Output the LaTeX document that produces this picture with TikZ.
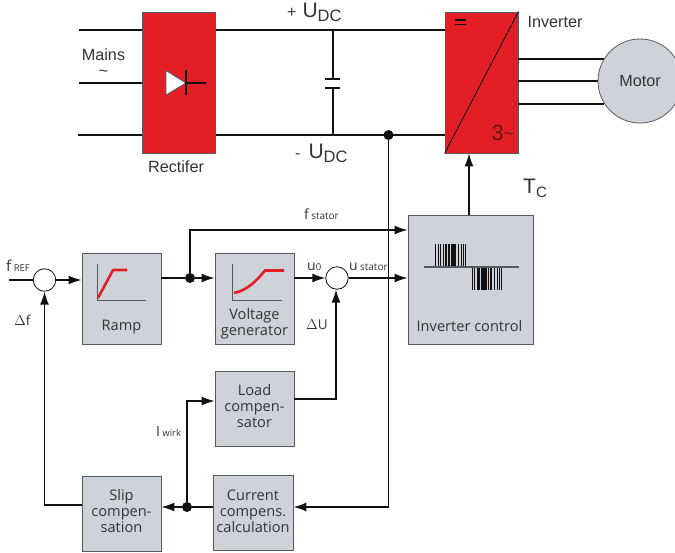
\documentclass[tikz,border=0pt]{standalone}
\usepackage{fontspec}
\setmainfont{Liberation Sans}
\newfontfamily\lowfont{Open Sans}
\usetikzlibrary{arrows.meta,calc}
\definecolor{hred}{HTML}{E31E26}
\definecolor{hgray}{HTML}{CDD3D9}
\definecolor{hink}{HTML}{111111}
\definecolor{htext}{HTML}{333333}
\definecolor{hedge}{HTML}{555A5E}
\newcommand{\fsz}[1]{\fontsize{#1}{#1}\selectfont}
\tikzset{
  x=1pt,y=-1pt,
  wire/.style={draw=hink,line width=1.5pt},
  arrowed/.style={wire,-{Latex[length=13pt,width=9pt]}},
  redbox/.style={draw=hedge,line width=0.8pt,fill=hred,inner sep=0pt,minimum width=73.5pt,minimum height=141pt},
  graybox/.style={draw=hedge,line width=0.8pt,fill=hgray,inner sep=0pt,minimum width=79pt},
  sumnode/.style={circle,draw=hink,line width=0.8pt,fill=white,minimum size=22.5pt,inner sep=0pt},
  junction/.style={circle,fill=hink,minimum size=10pt,inner sep=0pt},
  toptext/.style={text=htext,inner sep=0pt,font=\fsz{16.2}},
  lowtext/.style={text=htext,inner sep=0pt,font=\lowfont\fsz{13.5}},
  boxtext/.style={text=htext,inner sep=0pt,anchor=center,align=center,font=\lowfont\fontsize{14.6}{16}\selectfont},
  bigtext/.style={text=htext,inner sep=0pt,anchor=base west,font=\fsz{21}},
  motorstyle/.style={circle,draw=hedge,line width=0.8pt,fill=hgray,minimum size=84pt,inner sep=0pt,text=htext,font=\fsz{16.2}},
  axisline/.style={draw=hedge,line width=0.9pt},
  redcurve/.style={draw=hred,line width=2.6pt,line join=round},
}
\begin{document}
\begin{tikzpicture}
\useasboundingbox (0,0) rectangle (675,552);
% boxes
\node[redbox] (rect) at (179,82.5) {};
\node[redbox,minimum width=73pt] (inv) at (481.5,82.5) {};
\node[graybox,minimum width=125pt,minimum height=129pt] (ctrl) at (470.5,279.5) {};
\node[graybox,minimum height=91pt] (ramp) at (121.5,298.5) {};
\node[graybox,minimum height=91pt] (vgen) at (254.5,298.5) {};
\node[graybox,minimum height=75pt] (load) at (254.5,408.5) {};
\node[graybox,minimum height=75pt] (slip) at (121.5,513.5) {};
\node[graybox,minimum width=80pt,minimum height=75pt] (curr) at (253,512.5) {};
\node[sumnode] (sumA) at (44.5,280) {};
\node[sumnode] (sumB) at (337,278) {};
% free ends and bends
\coordinate (m1) at (79,30);
\coordinate (m2) at (79,83);
\coordinate (m3) at (78,135);
\coordinate (capT) at (333,79);
\coordinate (capB) at (333,88);
\coordinate (fin) at (9,280);
% DC bus
\draw[wire] (m1) -- (rect.west |- m1);
\draw[wire] (m2) -- (rect.west |- m2);
\draw[wire] (m3) -- (rect.west |- m3);
\draw[wire] (rect.east |- m1) -- (inv.west |- m1);
\draw[wire] (rect.east |- m3) -- (inv.west |- m3);
\draw[wire] (capT |- m1) -- (capT);
\draw[wire] (capB) -- (capB |- m3);
\draw[wire,line width=2pt] (325,79) -- (340,79);
\draw[wire,line width=2pt] (325,88) -- (340,88);
% diode
\draw[draw=hedge,line width=0.8pt,fill=white] (166,70.5) -- (186,83) -- (166,95) -- cycle;
\draw[wire,line width=1.3pt] (186,70) -- (186,95);
\draw[wire,line width=1.3pt] (186,83) -- (206,83);
% inverter details
\draw[hink,line width=0.9pt] (inv.south west) -- (inv.north east);
\draw[hink,line width=1.1pt] (455,20) -- (465.5,20) (455,24.5) -- (465.5,24.5);
\node[text=hink!60!hred,inner sep=0pt,anchor=base west,font=\fsz{22}] (three) at (491.5,140.5) {3\raisebox{1pt}{\fsz{17}\char`~}};
% motor feeds
\coordinate (f1) at (605,59);
\coordinate (f3) at (604,104);
\draw[wire] (inv.east |- f1) -- (f1);
\draw[wire] (inv.east |- 0,81) -- (610,81);
\draw[wire] (inv.east |- f3) -- (f3);
\node[motorstyle] (motor) at (640,81) {Motor};
% control to inverter
\coordinate (tcx) at (469,0);
\draw[arrowed] (tcx |- ctrl.north) -- (tcx |- inv.south);
% bus tap and feedback
\node[junction] (tap) at (388.5,135) {};
\draw[arrowed] (tap) -- (388.5,507) -- (curr.east |- 0,507);
% forward path
\draw[wire] (fin) -- (sumA);
\draw[arrowed] (sumA) -- (ramp.west |- sumA);
\node[junction] (jA) at (190,278) {};
\draw[wire] (ramp.east |- jA) -- (jA);
\draw[arrowed] (jA) -- (vgen.west |- jA);
\draw[arrowed] (jA) -- (190,230) -- (ctrl.west |- 0,230);
\draw[arrowed] (vgen.east |- sumB) -- (sumB);
\draw[arrowed] (sumB) -- (ctrl.west |- sumB);
% load compensator
\draw[arrowed] (load.east |- 0,399) -- (336,399) -- (336,289.5);
% current branch
\node[junction] (jB) at (187,507) {};
\draw[wire] (curr.west |- jB) -- (jB);
\draw[arrowed] (jB) -- (slip.east |- jB);
\draw[arrowed] (jB) -- (187,401) -- (load.west |- 0,401);
\draw[arrowed] (slip.west |- 0,505) -- (44.5,505) -- (sumA.south);
% icons
\draw[axisline] (97,264) -- (97,300) -- (146,300);
\draw[redcurve] (98,298) -- (113,270) -- (127,270);
\draw[axisline] (232.5,264) -- (232.5,300) -- (282,300);
\draw[redcurve] (234,293) .. controls (248,290) and (256,281) .. (265,270.5) -- (284,270.5);
% pulse pattern
\foreach \px/\pw in {435.5/0.8,438/0.8,440.5/0.9,443/0.9,446/1.3,449/1.5,452/1.5,454/4.5,458.5/1.2,461/0.9,463/0.8,465/0.8}{
  \draw[hink,line width=\pw pt] (\px,244) -- (\px,267);
}
\foreach \px/\pw in {472.5/0.8,474.5/0.8,477/0.9,479/1.2,482/1.5,485/4.5,488.5/1.5,491/1.3,494/0.9,497/0.9,499.5/0.8,501.5/0.8}{
  \draw[hink,line width=\pw pt] (\px,267) -- (\px,289.5);
}
\draw[hedge,line width=1.2pt] (423.5,267) -- (519,267);
% text
\node[toptext,anchor=center,align=center] (tMains) at (103.5,63) {Mains\\\char`~};
\node[toptext,anchor=center] (tRect) at (176,167) {Rectifer};
\node[toptext,anchor=center] (tInv) at (555,22) {Inverter};
\node[bigtext] (tUp) at (287,17) {\fsz{16}+\hspace{6pt}\fsz{21}U\raisebox{-4pt}{\fsz{16.5}DC}};
\node[bigtext] (tUm) at (295,158) {\fsz{16}-\hspace{8pt}\fsz{21}U\raisebox{-4pt}{\fsz{16.5}DC}};
\node[bigtext] (tTc) at (523,193) {T\raisebox{-4pt}{\fsz{15}C}};
\node[lowtext,anchor=base west] (tRef) at (6,271) {\fsz{15}f\,\fsz{9.5}REF};
\node[lowtext,anchor=base west] (tDf) at (14,325) {$\Delta$f};
\node[lowtext,anchor=base west] (tFs) at (304,219) {\fsz{14}f\,\fsz{10}stator};
\node[lowtext,anchor=base west] (tU0) at (307,270) {\fsz{14}u\fsz{9.5}0};
\node[lowtext,anchor=base west] (tUs) at (349,270) {\fsz{14}u\,\fsz{10}stator};
\node[lowtext,anchor=base west] (tDU) at (306,329.5) {$\Delta$U};
\node[lowtext,anchor=base west] (tIw) at (156,436) {\fsz{14}I\,\fsz{9.5}wirk};
\node[boxtext] (tRamp) at (121.5,327.5) {Ramp};
\node[boxtext] (tVg) at (254.5,323.5) {Voltage\\generator};
\node[boxtext] (tCtrl) at (469.5,326) {Inverter control};
\node[boxtext] (tLoad) at (254.5,406) {Load\\compen-\\sator};
\node[boxtext] (tSlip) at (121.5,511) {Slip\\compen-\\sation};
\node[boxtext] (tCurr) at (253,511) {Current\\compens.\\calculation};
\end{tikzpicture}
\end{document}
